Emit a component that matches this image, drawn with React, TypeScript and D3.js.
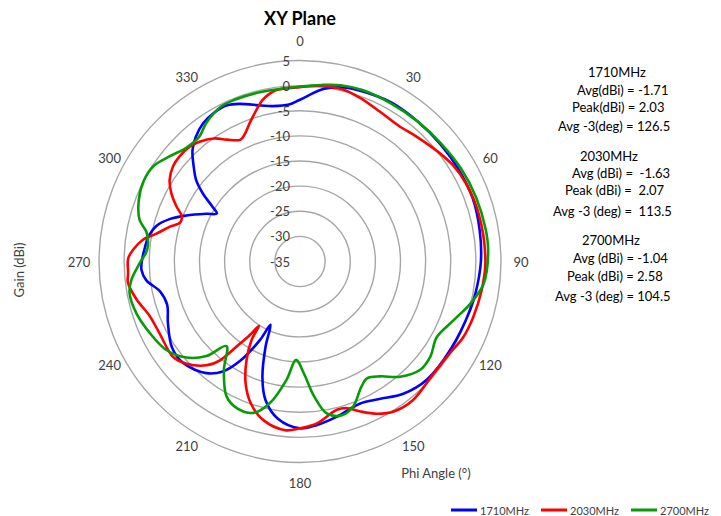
import React from "react";
import * as d3 from "d3";

const ringValues = [5, 0, -5, -10, -15, -20, -25, -30];
const valueLabels = ["5", "0", "-5", "-10", "-15", "-20", "-25", "-30", "-35"];
const angleLabels = [0, 30, 60, 90, 120, 150, 180, 210, 240, 270, 300, 330];

const phi1710 = [0, 8, 15, 25, 30, 40, 50, 60, 70, 80, 90, 100, 106, 120, 133, 142, 150, 157, 167, 174, 180, 188, 194, 198, 202, 205, 207, 211, 215, 220, 229, 236, 245, 252, 258, 263, 267, 271, 275, 279, 284, 288, 292, 297, 300, 302, 305, 308, 312, 316, 320, 325, 330, 335, 339, 346, 350, 356];
const gain1710 = [-2.8, -0.3, 0.8, 1.3, 1.5, 1.4, 1.4, 1.5, 1.6, 1.3, 1.0, 0.5, 0.2, -0.3, -0.5, -1.6, -3.4, -4.3, -3.2, -2.3, -1.8, -3.4, -6.6, -10.8, -16.7, -21.1, -17.5, -12.0, -8.3, -6.0, -4.2, -4.3, -6.0, -7.2, -6.5, -4.2, -3.4, -3.6, -4.0, -4.4, -5.6, -7.7, -10.6, -14.1, -15.9, -14.5, -11.4, -8.8, -6.5, -4.2, -2.7, -1.4, -0.8, -0.7, -1.4, -3.0, -3.6, -3.7];

const phi2030 = [0, 7, 14, 20, 28, 36, 43, 51, 58, 65, 75, 90, 99, 108, 115, 121, 130, 141, 148, 153, 158, 162, 166, 174, 180, 185, 193, 199, 204, 208.5, 211.7, 212.5, 214.3, 216.7, 219, 222, 228, 233, 243, 250, 257, 263, 266, 271, 274, 278, 281, 285, 288, 291, 294, 298, 302, 307, 311, 316, 320, 325, 329, 334, 337, 340, 344, 347, 352];
const gain2030 = [-0.3, 0.2, 0.3, -0.3, -1.2, -1.6, -1.0, 0.0, 1.0, 1.5, 1.8, 1.9, 1.6, 1.2, 0.8, 0.0, -0.3, 0.6, 0.2, -1.0, -2.8, -4.3, -4.6, -2.6, -1.8, -1.3, -2.6, -5.05, -8.4, -12.7, -16.7, -19.8, -17.3, -13.9, -9.7, -7.2, -4.6, -3.4, -3.6, -3.2, -1.6, -0.5, -0.7, -0.8, -1.7, -3.5, -5.9, -8.2, -9.9, -9.8, -8.1, -6.0, -4.4, -3.4, -3.2, -3.3, -3.9, -5.1, -6.7, -8.0, -7.2, -5.7, -3.6, -2.0, -0.6];

const phi2700 = [0, 7, 13, 20, 30, 40, 50, 60, 70, 80, 87, 97, 104, 111, 119, 126, 132, 139, 145, 150, 154, 160, 165, 170, 174, 178, 182.3, 186.5, 192, 197, 203, 208.5, 215, 221, 224.7, 229.8, 236.5, 244.5, 252.4, 259.4, 263.8, 269.4, 274.4, 280.5, 284.6, 291, 297.5, 303, 309, 315, 321, 326, 333, 338, 347];
const gain2700 = [-0.2, 0.4, 1.0, 1.3, 1.3, 1.4, 1.6, 2.0, 2.3, 2.5, 2.5, 1.8, -0.1, -2.3, -3.9, -2.9, -2.8, -4.6, -7.1, -8.2, -7.2, -4.2, -3.3, -4.3, -8.0, -12.7, -15.4, -11.3, -6.2, -3.5, -3.2, -4.4, -8.6, -12.7, -8.55, -5.4, -3.1, -1.9, -0.85, -0.5, -1.25, -3.1, -4.5, -4.0, -2.0, -0.65, 0.0, -0.2, -1.7, -3.0, -3.1, -1.7, -0.4, -0.3, -0.4];

const seriesNames = ["1710MHz", "2030MHz", "2700MHz"];
const seriesColors = ["#0000ff", "#ff0000", "#079b07"];

const statsTitles = ["1710MHz", "2030MHz", "2700MHz"];
const statsLines = [
  ["Avg(dBi) = -1.71", "Peak(dBi) = 2.03", "Avg -3(deg) = 126.5"],
  ["Avg (dBi) =  -1.63", "Peak (dBi) =  2.07", "Avg -3 (deg) =  113.5"],
  ["Avg (dBi) = -1.04", "Peak (dBi) = 2.58", "Avg -3 (deg) = 104.5"],
];

const W = 721;
const H = 516;
const cx = 300;
const cy = 261.5;
const R = 201;
const FONT = "Lato, 'Open Sans', sans-serif";

export default function App() {
  const r = d3.scaleLinear().domain([-35, 5]).range([0, R]);
  const a = d3.scaleLinear().domain([0, 360]).range([0, 2 * Math.PI]);
  const line = d3
    .lineRadial<[number, number]>()
    .angle((d) => a(d[0]))
    .radius((d) => r(d[1]))
    .curve(d3.curveCatmullRomClosed.alpha(0.5));

  const series = [
    d3.zip(phi1710, gain1710) as [number, number][],
    d3.zip(phi2030, gain2030) as [number, number][],
    d3.zip(phi2700, gain2700) as [number, number][],
  ];

  const labelPos = (deg: number) => {
    const t = a(deg);
    const dist = 212 + 9 * Math.abs(Math.cos(2 * t));
    const t2 = t + a(1.8) * Math.sin(2 * t);
    return [cx + dist * Math.sin(t2), cy - dist * Math.cos(t2)];
  };

  const titleX = [588, 580, 582];
  const titleY = [77, 161, 244.5];
  const lineX = [
    [577, 572, 558],
    [572, 565, 553],
    [573, 567, 555],
  ];
  const lineY = [
    [95, 111.5, 131],
    [177.5, 194.5, 216],
    [262.5, 280.5, 300.5],
  ];
  const legendX = [451, 541, 631];

  return (
    <svg
      width={W}
      height={H}
      style={{ position: "absolute", left: 0, top: 0, background: "#fff" }}
      fontFamily={FONT}
    >
      <rect width={W} height={H} fill="#fff" />
      <text x={cx} y={25} textAnchor="middle" fontSize={18} fontWeight="bold" fill="#000">
        XY Plane
      </text>
      <g>
        {ringValues.map((v) => (
          <circle key={v} cx={cx} cy={cy} r={r(v)} fill="none" stroke="#a6a6a6" strokeWidth={1.4} />
        ))}
      </g>
      <g>
        {series.map((s, i) => (
          <path
            key={i}
            d={line(s) || ""}
            transform={`translate(${cx},${cy})`}
            fill="none"
            stroke={seriesColors[i]}
            strokeWidth={2.6}
            strokeLinejoin="round"
          />
        ))}
      </g>
      <g fontSize={13} fill="#404040">
        {valueLabels.map((t) => (
          <text key={t} x={290} y={cy - r(+t)} textAnchor="end" dominantBaseline="central">
            {t}
          </text>
        ))}
      </g>
      <g fontSize={13} fill="#404040">
        {angleLabels.map((deg) => {
          const [x, y] = labelPos(deg);
          return (
            <text key={deg} x={x} y={y} textAnchor="middle" dominantBaseline="central">
              {deg}
            </text>
          );
        })}
      </g>
      <text
        x={0}
        y={0}
        transform={`translate(24,270) rotate(-90)`}
        textAnchor="middle"
        fontSize={13}
        fill="#404040"
      >
        Gain (dBi)
      </text>
      <text x={436} y={478} textAnchor="middle" fontSize={13} fill="#404040">
        Phi Angle (°)
      </text>
      <g fontSize={13} fill="#000">
        {statsTitles.map((t, i) => (
          <g key={t}>
            <text x={titleX[i]} y={titleY[i]}>
              {t}
            </text>
            {statsLines[i].map((l, j) => (
              <text key={j} x={lineX[i][j]} y={lineY[i][j]} style={{ whiteSpace: "pre" }}>
                {l}
              </text>
            ))}
          </g>
        ))}
      </g>
      <g fontSize={11} fill="#404040">
        {seriesNames.map((n, i) => (
          <g key={n}>
            <line x1={legendX[i]} x2={legendX[i] + 26} y1={510} y2={510} stroke={seriesColors[i]} strokeWidth={3} />
            <text x={legendX[i] + 29} y={510} dominantBaseline="central">
              {n}
            </text>
          </g>
        ))}
      </g>
    </svg>
  );
}
